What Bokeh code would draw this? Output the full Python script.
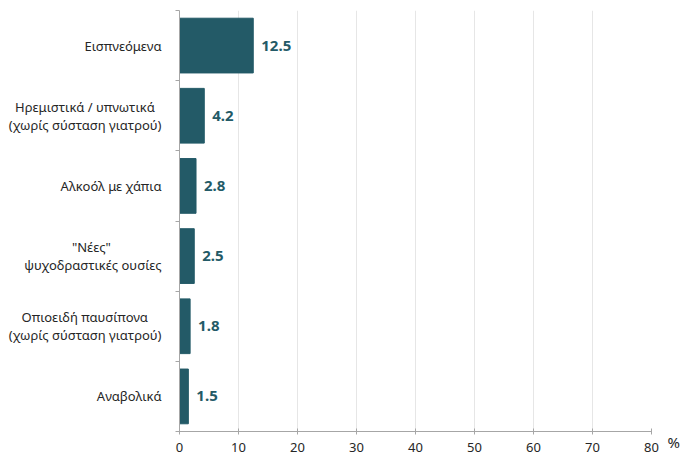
from bokeh.plotting import figure
from bokeh.models import Range1d, FixedTicker, ColumnDataSource, LinearAxis
from bokeh.embed import file_html
from bokeh.resources import INLINE
from bokeh.core.properties import value

# data (top to bottom)
categories = ["Εισπνεόμενα",
              "Ηρεμιστικά / υπνωτικά\n(χωρίς σύσταση γιατρού)",
              "Αλκοόλ με χάπια",
              "\"Νέες\"\nψυχοδραστικές ουσίες",
              "Οπιοειδή παυσίπονα\n(χωρίς σύσταση γιατρού)",
              "Αναβολικά"]
values = [12.5, 4.2, 2.8, 2.5, 1.8, 1.5]
value_labels = ["12.5", "4.2", "2.8", "2.5", "1.8", "1.5"]
x_ticks = [0, 10, 20, 30, 40, 50, 60, 70, 80]
unit_label = "%"

BAR = "#235A67"
TXT = "#262626"
AX = "#a6a6a6"
FONT = "Noto Sans"

# styling only: trailing non-breaking spaces that visually centre the
# shorter first line of two-line labels over the second line
first_line_pad = [0, 2, 0, 15, 4, 0]


def centred(label, pad):
    lines = label.split("\n")
    if len(lines) > 1 and pad:
        lines[0] = lines[0] + "\u00a0" * pad
    return "\n".join(lines)


n = len(categories)
ypos = [n - 0.5 - i for i in range(n)]

src = ColumnDataSource(dict(y=ypos, v=values, lab=value_labels))

p = figure(output_backend="svg", toolbar_location=None,
           frame_width=472, frame_height=421,
           min_border_left=179, min_border_right=37,
           min_border_top=10, min_border_bottom=20,
           x_range=Range1d(0, 80), y_range=Range1d(0, n))
p.outline_line_color = None
p.background_fill_color = "white"

xax = p.xaxis[0]
xax.ticker = FixedTicker(ticks=x_ticks)
xax.axis_line_color = AX
xax.major_tick_line_color = AX
xax.major_tick_in = 3
xax.major_tick_out = 3
xax.minor_tick_line_color = None
xax.major_label_standoff = 8
xax.major_label_text_font = FONT
xax.major_label_text_font_size = "13px"
xax.major_label_text_color = TXT

yax = p.yaxis[0]
yax.ticker = FixedTicker(ticks=ypos, minor_ticks=list(range(n + 1)))
yax.major_label_overrides = {y: centred(c, pd)
                             for y, c, pd in zip(ypos, categories, first_line_pad)}
yax.axis_line_color = AX
yax.minor_tick_line_color = AX
yax.minor_tick_out = 4
yax.minor_tick_in = 0
yax.major_tick_line_color = None
yax.major_tick_out = 0
yax.major_tick_in = 0
yax.major_label_standoff = 14
yax.major_label_text_font = FONT
yax.major_label_text_font_size = "13px"
yax.major_label_text_color = TXT
yax.major_label_text_line_height = 1.0

# "%" unit label on a right-hand axis at the bottom
rax = LinearAxis(ticker=FixedTicker(ticks=[0]),
                 major_label_overrides={0: "\n" + unit_label})
rax.axis_line_color = None
rax.major_tick_line_color = None
rax.minor_tick_line_color = None
rax.major_label_standoff = 10
rax.major_label_text_font = FONT
rax.major_label_text_font_size = "15px"
rax.major_label_text_color = TXT
rax.major_label_text_line_height = 1.0
p.add_layout(rax, "right")

p.xgrid.ticker = FixedTicker(ticks=x_ticks)
p.xgrid.grid_line_color = "#e6e6e6"
p.ygrid.grid_line_color = None

p.hbar(y="y", right="v", left=0, height=0.78, source=src,
       fill_color=BAR, line_color=BAR)

p.text(x="v", y="y", text="lab", source=src, x_offset=8,
       text_font=value(FONT), text_font_size="15px", text_font_style="bold",
       text_color=BAR, text_align="left", text_baseline="middle")

open("out.html", "w").write(file_html(p, INLINE))
